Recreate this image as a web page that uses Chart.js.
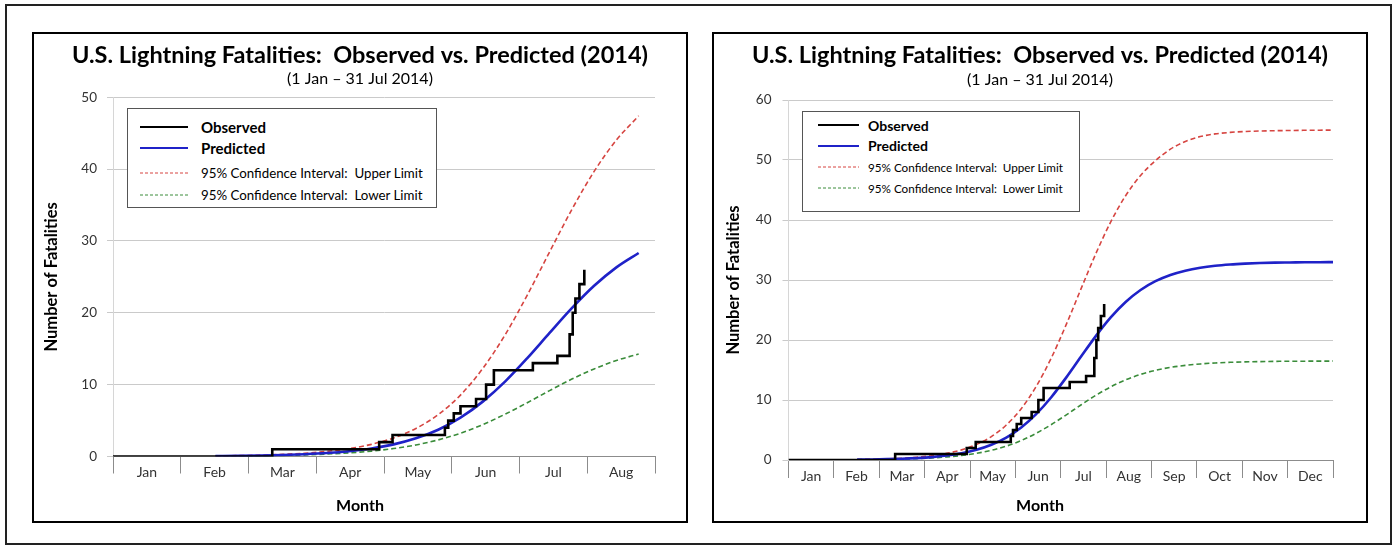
<!DOCTYPE html>
<html lang="en">
<head>
<meta charset="utf-8">
<title>U.S. Lightning Fatalities: Observed vs. Predicted (2014)</title>
<script src="https://cdn.jsdelivr.net/npm/chart.js@4.4.1/dist/chart.umd.min.js"></script>
<style>
  html, body { margin: 0; padding: 0; background: #fff; }
  body { width: 1397px; height: 548px; position: relative; overflow: hidden; font-family: Lato, 'Open Sans', sans-serif; }
  .frame { position: absolute; left: 5px; top: 4px; width: 1387px; height: 541px; border: 2px solid #222; box-sizing: border-box; }
  .panel { position: absolute; top: 32px; width: 656px; height: 491px; border: 2px solid #000; box-sizing: border-box; }
  .panel canvas { position: absolute; left: 0; top: 0; }
  .xtitle { position: absolute; top: 495px; width: 100px; height: 20px; line-height: 20px; text-align: center; font-size: 16px; font-weight: 700; color: #000; }
  .legend { position: absolute; background: #fff; border: 1px solid #555; box-sizing: border-box; }
  .legend .row { position: absolute; left: 0; height: 20px; margin-top: -10px; display: flex; align-items: center; white-space: pre; color: #000; }
  .legend svg { display: block; flex: none; }
</style>
</head>
<body>
<div class="frame"></div>
<div class="panel" style="left:32px"><canvas id="chartJul" width="652" height="487"></canvas></div>
<div class="panel" style="left:712px"><canvas id="chartYear" width="652" height="487"></canvas></div>
<div class="xtitle" style="left:310px">Month</div>
<div class="xtitle" style="left:990px">Month</div>
<div class="legend" id="legendJul" style="left:127px; top:108px; width:310px; height:100px"></div>
<div class="legend" id="legendYear" style="left:802px; top:111px; width:278px; height:101px"></div>

<script>
// month names for the category labels
const monthNames = ['Jan', 'Feb', 'Mar', 'Apr', 'May', 'Jun', 'Jul', 'Aug', 'Sep', 'Oct', 'Nov', 'Dec'];

// observed cumulative fatalities (day of year when the count changes)
const obsDay   = [0, 71.5, 119.5, 125.5, 149, 150.5, 153, 156, 163, 167.5, 171, 188.5, 199.5, 205, 206.4, 207.6, 209.4, 211.6];
const obsCount = [0, 1, 2, 3, 4, 5, 6, 7, 8, 10, 12, 13, 14, 17, 20, 22, 24, 26];

// model: predicted and 95% confidence interval
const predDay  = [46, 56, 66, 76, 86, 96, 106, 116, 126, 136, 146, 156, 166, 176, 186, 196, 206, 216, 226, 236,
                  246, 256, 266, 276, 286, 296, 306, 316, 326, 336, 346, 356, 365];
const predVal  = [0.06, 0.09, 0.14, 0.21, 0.32, 0.48, 0.74, 1.12, 1.69, 2.53, 3.73, 5.41, 7.64, 10.42, 13.69, 17.2, 20.65, 23.76, 26.33, 28.33,
                  29.8, 30.84, 31.56, 32.05, 32.38, 32.59, 32.73, 32.83, 32.89, 32.92, 32.95, 32.97, 32.98];
const upperVal = [0.08, 0.12, 0.19, 0.3, 0.46, 0.71, 1.1, 1.69, 2.58, 3.9, 5.83, 8.55, 12.25, 16.92, 22.47, 28.47, 34.38, 39.68, 44.05, 47.41,
                  49.9, 51.8, 53.1, 53.9, 54.35, 54.6, 54.75, 54.83, 54.88, 54.92, 54.95, 54.97, 54.98];
const lowerVal = [0.05, 0.07, 0.1, 0.15, 0.23, 0.34, 0.51, 0.75, 1.11, 1.61, 2.31, 3.24, 4.44, 5.88, 7.49, 9.17, 10.78, 12.19, 13.36, 14.27,
                  14.95, 15.43, 15.77, 16.01, 16.17, 16.28, 16.35, 16.4, 16.44, 16.46, 16.47, 16.48, 16.49];

const seriesLabels = ['Observed', 'Predicted', '95% Confidence Interval:  Upper Limit', '95% Confidence Interval:  Lower Limit'];
const titleText = 'U.S. Lightning Fatalities:  Observed vs. Predicted (2014)';
const subtitleText = '(1 Jan \u2013 31 Jul 2014)';

const MONTH = 365 / 12;
const FONT = 'Lato';

function points(days, vals, lastDay) {
  return days.map((d, i) => ({ x: d, y: vals[i] })).filter(p => p.x <= lastDay);
}

function makeChart(id, g) {
  // boundary ticks and mid-month label ticks, interleaved
  const tickVals = [];
  for (let i = 0; i < g.months; i++) {
    tickVals.push(i * MONTH, (i + 0.5) * MONTH);
  }
  tickVals.push(g.months * MONTH);

  return new Chart(document.getElementById(id), {
    type: 'line',
    data: {
      datasets: [
        { label: seriesLabels[0], data: points(obsDay, obsCount, 400), borderColor: '#000', borderWidth: 2.6, stepped: 'before' },
        { label: seriesLabels[1], data: points(predDay, predVal, g.lastDay), borderColor: '#1f22c8', borderWidth: 2.6, cubicInterpolationMode: 'monotone' },
        { label: seriesLabels[2], data: points(predDay, upperVal, g.lastDay), borderColor: '#d64541', borderWidth: 1.6, borderDash: [5, 3], cubicInterpolationMode: 'monotone' },
        { label: seriesLabels[3], data: points(predDay, lowerVal, g.lastDay), borderColor: '#3a8c3a', borderWidth: 1.6, borderDash: [5, 3], cubicInterpolationMode: 'monotone' }
      ]
    },
    options: {
      responsive: false,
      animation: false,
      events: [],
      elements: { point: { radius: 0 } },
      layout: { padding: 0 },
      plugins: {
        legend: { display: false },
        tooltip: { enabled: false },
        title: {
          display: true, text: titleText, color: '#000',
          font: { family: FONT, size: 23.5, weight: 'bold' },
          padding: { top: 6.9, bottom: 0 }
        },
        subtitle: {
          display: true, text: subtitleText, color: '#000',
          font: { family: FONT, size: 16 },
          padding: g.subPad
        }
      },
      scales: {
        x: {
          type: 'linear',
          min: 0,
          max: g.months * MONTH,
          afterBuildTicks: s => { s.ticks = tickVals.map(v => ({ value: v })); },
          afterFit: s => { s.height = g.xHeight; },
          ticks: {
            autoSkip: false, maxRotation: 0, minRotation: 0,
            padding: g.xTickPad, color: '#333',
            font: { family: FONT, size: 14 },
            callback: (v, i) => (i % 2 ? monthNames[(i - 1) / 2] : '')
          },
          grid: {
            drawOnChartArea: false, tickLength: g.xTickLen,
            tickColor: c => (c.index % 2 === 0 ? '#8c8c8c' : 'rgba(0,0,0,0)')
          },
          border: { display: true, color: '#8c8c8c', width: 1 }
          // the "Month" title sits under the panel centre, see .xtitle
        },
        y: {
          min: 0,
          max: g.yMax,
          afterFit: s => { s.width = g.yWidth; },
          ticks: { stepSize: 10, padding: g.yTickPad, color: '#333', font: { family: FONT, size: 13.5 } },
          grid: { color: '#cacaca', tickLength: 6 },
          border: { display: true, color: '#d6d6d6' },
          title: {
            display: true, text: 'Number of Fatalities', color: '#000',
            font: { family: FONT, size: 16.5, weight: 'bold' },
            padding: { top: g.yTitlePad, bottom: 0 }
          }
        },
        // empty right margin, keeps the titles centred on the whole panel
        yRight: {
          position: 'right',
          grid: { display: false },
          ticks: { display: false },
          border: { display: false },
          afterFit: s => { s.width = g.padRight; }
        }
      }
    }
  });
}

// legend box built from the chart's own datasets
function buildLegend(chart, boxId, L) {
  const box = document.getElementById(boxId);
  chart.data.datasets.forEach((ds, i) => {
    const main = i < 2;
    const row = document.createElement('div');
    row.className = 'row';
    row.style.top = L.rows[i] + 'px';
    const dash = main ? '' : ' stroke-dasharray="3 2"';
    row.innerHTML =
      `<svg width="${L.swW}" height="6" style="margin-left:${L.swX}px"><line x1="0" y1="3" x2="${L.swW}" y2="3" stroke="${ds.borderColor}" stroke-width="${main ? 2 : 1}"${dash}/></svg>` +
      `<span style="margin-left:${L.gap}px; font-size:${main ? L.big : L.small}px; font-weight:${main ? 700 : 400}">${ds.label}</span>`;
    box.appendChild(row);
  });
}

const julChart = makeChart('chartJul', {
  months: 8, yMax: 50, lastDay: 236,
  yWidth: 79, xHeight: 64.5, padRight: 31,
  subPad: { top: 0, bottom: 9 },
  yTitlePad: 8.1, yTickPad: 10, xTickLen: 17, xTickPad: -9
});
const yearChart = makeChart('chartYear', {
  months: 12, yMax: 60, lastDay: 365,
  yWidth: 74.5, xHeight: 61, padRight: 33,
  subPad: { top: 1.3, bottom: 10.4 },
  yTitlePad: 9.6, yTickPad: 11, xTickLen: 18, xTickPad: -10
});

buildLegend(julChart, 'legendJul', { rows: [17.5, 39, 64, 86], swX: 12, swW: 48, gap: 13, big: 15, small: 13.3 });
buildLegend(yearChart, 'legendYear', { rows: [13, 33.5, 55, 75.5], swX: 15, swW: 41, gap: 9, big: 14, small: 11.7 });
</script>
</body>
</html>
